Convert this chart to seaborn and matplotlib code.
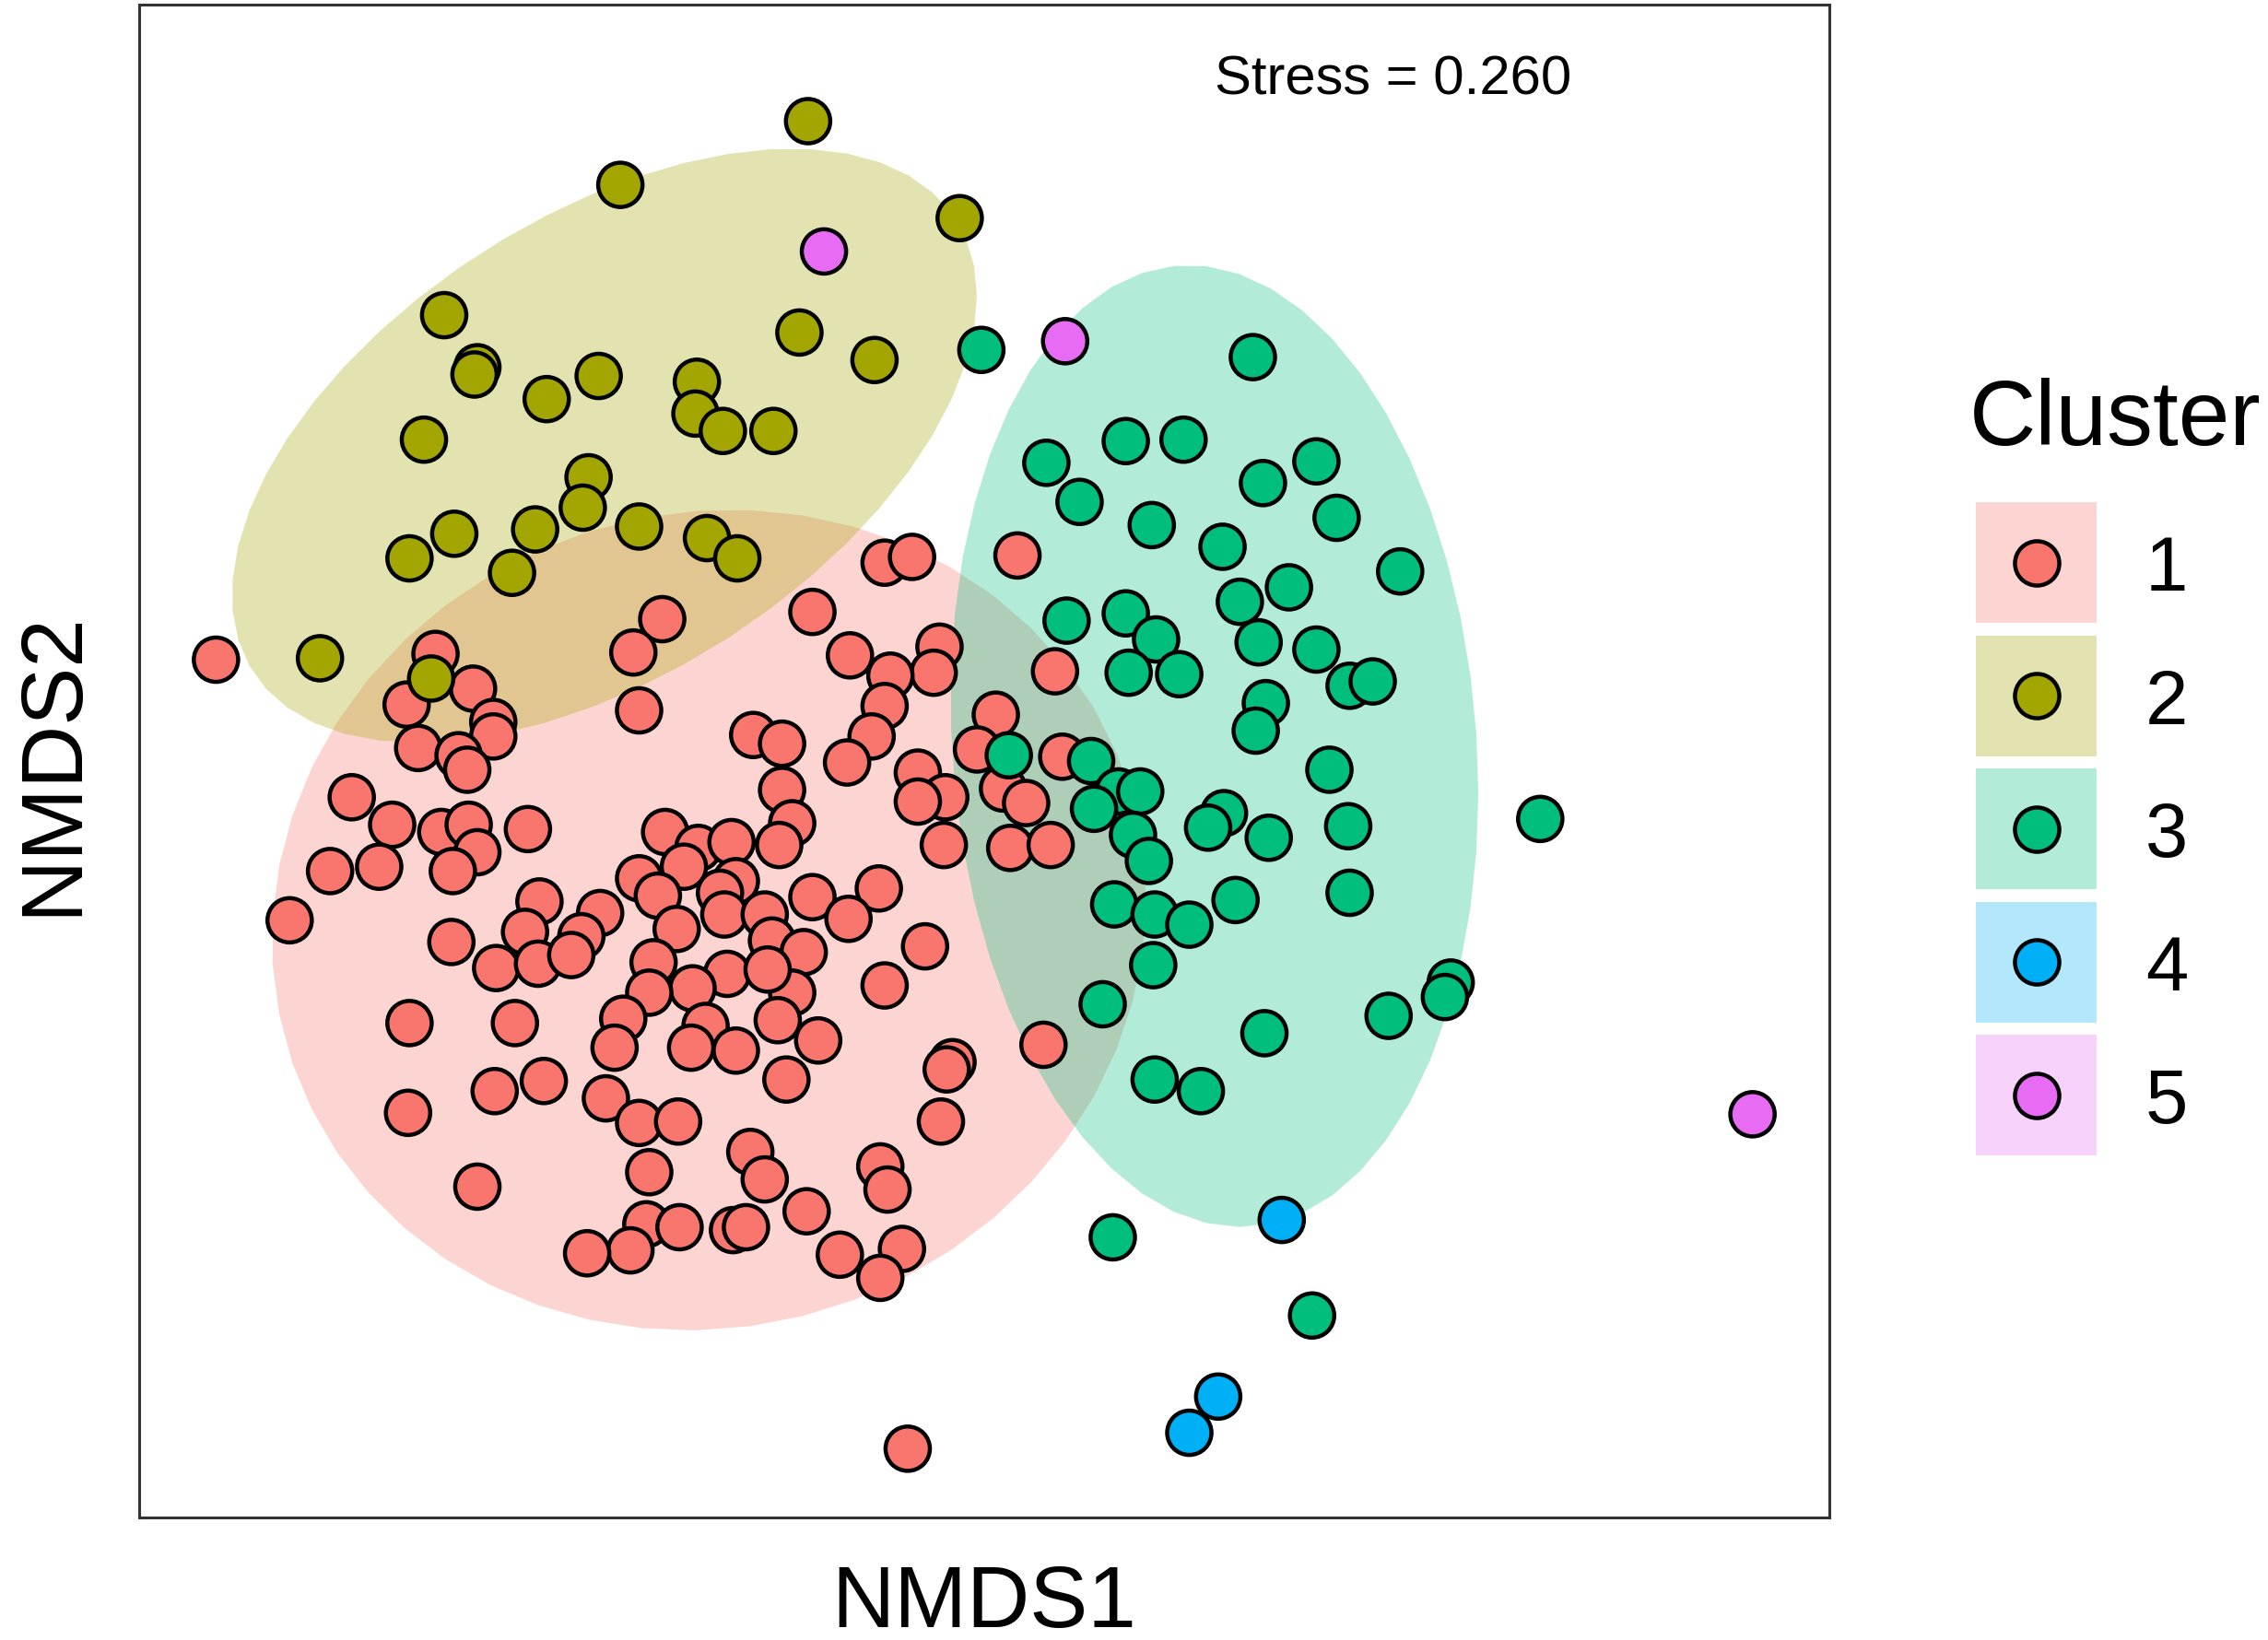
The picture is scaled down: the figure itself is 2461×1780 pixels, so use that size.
import numpy as np
import pandas as pd
import seaborn as sns
import matplotlib.pyplot as plt
from matplotlib.patches import Rectangle

c1_x = [-5.32, -0.69, -0.50, 0.23, -1.19, -2.23, -2.43, -3.80, -0.93, -0.31,
        -0.35, -0.65, 0.49, -3.54, -4.00, -3.40, -3.40, -2.39, -0.69, -0.78,
        -1.60, -1.40, 0.08, -0.05, 0.54, -3.92, -3.64, -3.58, -0.95, -0.46,
        0.13, -0.27, -1.40, 0.29, -4.38, -4.10, -3.76, -3.57, -3.51, -3.16,
        -0.46, 0.18, 0.46, -0.28, -1.33, -1.42, -2.21, -1.98, -1.75, -4.53,
        -4.19, -3.68, -2.08, -2.39, -1.72, -2.26, -1.83, -0.73, -4.81, -3.08,
        -2.66, -2.13, -1.80, -1.52, -1.19, -0.94, -1.47, -1.25, -0.41, -2.79,
        -3.18, -3.69, -3.38, -3.09, -2.86, -2.29, -1.78, -2.02, -2.32, -1.33,
        -1.50, -0.69, -3.98, -3.25, -2.50, -1.93, -1.43, -1.15, 0.41, -2.56,
        -2.03, -1.72, -0.22, -0.26, -3.39, -3.05, -3.99, -2.62, -2.39, -2.12,
        -1.37, -0.30, -2.32, -1.62, -1.52, -0.72, -0.67, -3.51, -1.23, -2.34,
        -2.11, -1.74, -1.65, -2.45, -2.75, -1.00, -0.57, -0.72, -0.53]
c1_y = [1.02, 1.69, 1.73, 1.74, 1.35, 1.30, 1.07, 1.06, 1.05, 1.11,
        0.93, 0.91, 0.94, 0.82, 0.71, 0.59, 0.49, 0.67, 0.70, 0.49,
        0.50, 0.44, 0.64, 0.40, 0.35, 0.41, 0.36, 0.26, 0.31, 0.24,
        0.13, 0.07, 0.12, 0.03, 0.07, -0.12, -0.17, -0.12, -0.31, -0.15,
        0.04, -0.28, -0.26, -0.26, -0.11, -0.26, -0.17, -0.28, -0.24, -0.44,
        -0.41, -0.44, -0.41, -0.49, -0.51, -0.61, -0.59, -0.56, -0.78, -0.65,
        -0.73, -0.84, -0.74, -0.74, -0.62, -0.77, -0.92, -1.00, -0.96, -0.89,
        -0.86, -0.93, -1.11, -1.08, -1.02, -1.07, -1.15, -1.25, -1.28, -1.28,
        -1.12, -1.23, -1.49, -1.49, -1.46, -1.51, -1.47, -1.61, -1.64, -1.66,
        -1.66, -1.68, -1.76, -1.81, -1.96, -1.89, -2.11, -2.01, -2.18, -2.17,
        -1.88, -2.17, -2.52, -2.38, -2.57, -2.48, -2.64, -2.62, -2.79, -2.88,
        -2.90, -2.92, -2.90, -3.06, -3.08, -3.09, -3.05, -3.25, -4.43]

c2_x = [-1.22, -2.52, -0.17, -3.74, -1.28, -0.76, -3.51, -3.53, -2.67, -3.03,
        -1.99, -2.00, -1.81, -1.46, -3.88, -2.74, -2.78, -2.39, -3.67, -3.11,
        -3.98, -3.27, -1.92, -1.71, -4.60, -3.83]
c2_y = [4.74, 4.30, 4.07, 3.40, 3.28, 3.09, 3.04, 2.99, 2.98, 2.82,
        2.94, 2.72, 2.60, 2.60, 2.54, 2.28, 2.07, 1.94, 1.89, 1.92,
        1.72, 1.62, 1.86, 1.72, 1.03, 0.89]

c3_x = [-0.02, 1.86, 0.98, 1.38, 0.43, 2.30, 1.93, 0.66, 2.44, 1.16,
        1.65, 2.88, 2.11, 1.77, 0.57, 0.98, 1.19, 1.90, 2.30, 1.00,
        1.35, 2.53, 2.69, 1.95, 1.88, 0.17, 0.74, 2.39, 0.93, 1.08,
        0.76, 1.66, 1.55, 1.03, 1.14, 1.97, 2.52, 3.85, 0.90, 1.18,
        1.42, 1.74, 2.53, 1.17, 0.82, 3.23, 3.19, 2.80, 1.94, 1.18,
        1.50, 0.89, 2.27]
c3_y = [3.16, 3.11, 2.53, 2.54, 2.38, 2.39, 2.24, 2.11, 2.00, 1.95,
        1.80, 1.63, 1.52, 1.42, 1.29, 1.34, 1.16, 1.14, 1.09, 0.93,
        0.92, 0.84, 0.87, 0.72, 0.53, 0.36, 0.32, 0.26, 0.11, 0.11,
        -0.01, -0.04, -0.14, -0.19, -0.37, -0.21, -0.13, -0.08, -0.67, -0.74,
        -0.81, -0.64, -0.59, -1.09, -1.36, -1.21, -1.31, -1.44, -1.56, -1.88,
        -1.96, -2.97, -3.51]

c4_x = [2.06, 1.62, 1.42]
c4_y = [-2.85, -4.07, -4.32]

c5_x = [-1.11, 0.56, 5.32]
c5_y = [3.84, 3.22, -2.12]

clusters = ['1', '2', '3', '4', '5']
colors = ['#F8766D', '#A3A500', '#00BF7D', '#00B0F6', '#E76BF3']
stress = 0.260
stress_pos = (2.83, 5.07)

xs = [c1_x, c2_x, c3_x, c4_x, c5_x]
ys = [c1_y, c2_y, c3_y, c4_y, c5_y]
df = pd.concat([pd.DataFrame({'NMDS1': x, 'NMDS2': y, 'Cluster': c})
                for x, y, c in zip(xs, ys, clusters)], ignore_index=True)


def cov_trob(xy, nu=5, maxit=25, tol=0.01):
    # multivariate t estimate, same recipe as MASS::cov.trob
    n, p = xy.shape
    loc = xy.mean(axis=0)
    w = np.ones(n)
    for _ in range(maxit):
        w0 = w
        X = xy - loc
        _, d, vt = np.linalg.svd(np.sqrt(w / w.sum())[:, None] * X, full_matrices=False)
        wX = X @ vt.T @ np.diag(1 / d)
        Q = (wX ** 2).sum(axis=1)
        w = (nu + p) / (nu + Q)
        loc = (w[:, None] * xy).sum(axis=0) / w.sum()
        if np.all(np.abs(w - w0) < tol):
            break
    cov = (np.sqrt(w)[:, None] * X).T @ (np.sqrt(w)[:, None] * X) / n
    return loc, cov


def t_ellipse(x, y, level=0.95, segments=51):
    xy = np.column_stack([x, y])
    center, shape = cov_trob(xy)
    dfd = len(x) - 1
    qf = dfd / 2 * ((1 - level) ** (-2 / dfd) - 1)   # F(2, dfd) quantile
    radius = np.sqrt(2 * qf)
    ang = np.linspace(0, 2 * np.pi, segments + 1)
    circ = np.column_stack([np.cos(ang), np.sin(ang)])
    L = np.linalg.cholesky(shape)
    e = center + radius * (circ @ L.T)
    return e[:, 0], e[:, 1]


sns.set_theme(style='white')
plt.rcParams['font.family'] = ['Liberation Sans', 'DejaVu Sans']
plt.rcParams['text.color'] = 'black'

fig = plt.figure(figsize=(24.61, 17.81), dpi=100)
ax = fig.add_axes([0.06136, 0.07468, 0.74523, 0.92195])

# ellipses for the three big clusters
for i in range(3):
    ex, ey = t_ellipse(np.array(xs[i]), np.array(ys[i]))
    ax.fill(ex, ey, color=colors[i], alpha=0.3, lw=0, zorder=1)

sns.scatterplot(data=df, x='NMDS1', y='NMDS2', hue='Cluster', palette=colors,
                hue_order=clusters, s=1200, edgecolor='black', linewidth=3.2,
                alpha=1, legend=False, ax=ax, zorder=3)

ax.text(stress_pos[0], stress_pos[1], 'Stress = %.3f' % stress, fontsize=43,
        ha='center', va='center_baseline', color='black')

# ggplot-like 5% expansion of the limits
allx = np.concatenate([df['NMDS1'].values, [stress_pos[0]]])
ally = np.concatenate([df['NMDS2'].values, [stress_pos[1]]])
rx = allx.max() - allx.min()
ry = ally.max() - ally.min()
ax.set_xlim(allx.min() - 0.05 * rx, allx.max() + 0.05 * rx)
ax.set_ylim(ally.min() - 0.05 * ry, ally.max() + 0.05 * ry)

ax.set_xticks([])
ax.set_yticks([])
ax.set_xlabel('')
ax.set_ylabel('')
for sp in ax.spines.values():
    sp.set_color('#333333')
    sp.set_linewidth(2.2)

fig.text(0.434, 0.0085, 'NMDS1', fontsize=68, ha='center', va='baseline',
         color='black')
fig.text(0.0333, 0.535, 'NMDS2', fontsize=68, ha='center', va='baseline',
         rotation=90, rotation_mode='anchor', color='black')

# legend drawn in pixel coordinates of the figure
lax = fig.add_axes([0, 0, 1, 1])
lax.set_xlim(0, 2461)
lax.set_ylim(1781, 0)
lax.axis('off')
lax.text(2137, 483, 'Cluster', fontsize=72, ha='left', va='baseline',
         color='black')
for i, (c, col) in enumerate(zip(clusters, colors)):
    top = 546 + i * 144.5
    lax.add_patch(Rectangle((2144, top), 131, 131, facecolor=col, alpha=0.3, lw=0))
    lax.scatter([2209.5], [top + 65.5], s=1200, color=col, edgecolor='black',
                linewidth=3.2, zorder=3)
    lax.text(2328, top + 65.5 + 30, c, fontsize=60, ha='left', va='baseline',
             color='black')

fig.savefig('out.png', dpi=100)
